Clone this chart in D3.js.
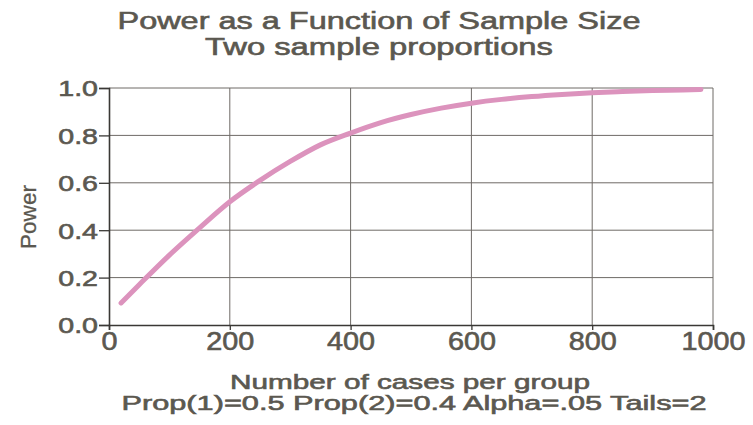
<!DOCTYPE html>
<html>
<head>
<meta charset="utf-8">
<script src="https://cdn.jsdelivr.net/npm/d3@7"></script>
<style>
  body { margin: 0; background: #fff; }
  text { font-family: "Liberation Sans", Arial, sans-serif; fill: #5b5850; stroke: #5b5850; stroke-width: 0.6px; }
</style>
</head>
<body>
<script>
// cases per group and power
const cases = [20, 50, 100, 150, 200, 250, 300, 350, 400, 450, 500, 550, 600, 650, 700, 750, 800, 850, 900, 950, 980];
const power = [0.093, 0.17, 0.295, 0.41, 0.52, 0.61, 0.69, 0.76, 0.81, 0.854, 0.888, 0.915, 0.936, 0.952, 0.964, 0.973, 0.98, 0.985, 0.989, 0.992, 0.994];
const xTicks = [0, 200, 400, 600, 800, 1000];
const yTicks = [0, 0.2, 0.4, 0.6, 0.8, 1.0];

const width = 753, height = 425;
const svg = d3.select("body").append("svg")
  .attr("width", width)
  .attr("height", height);

const x = d3.scaleLinear().domain([0, 1000]).range([109, 713]);
const y = d3.scaleLinear().domain([0, 1]).range([325, 88]);

// the scan has wide lettering, so text gets stretched sideways
function stretch(sel, k) {
  sel.each(function () {
    const len = this.getComputedTextLength();
    d3.select(this).attr("textLength", len * k).attr("lengthAdjust", "spacingAndGlyphs");
  });
}
function fitTo(sel, w) {
  sel.attr("textLength", w).attr("lengthAdjust", "spacingAndGlyphs");
}

// grid
svg.append("g").selectAll("line")
  .data(xTicks.slice(1))
  .join("line")
  .attr("x1", d => x(d)).attr("x2", d => x(d))
  .attr("y1", y(0)).attr("y2", y(1))
  .attr("stroke", "#6e6a66").attr("stroke-width", 1);

svg.append("g").selectAll("line")
  .data(yTicks.slice(1))
  .join("line")
  .attr("x1", x(0)).attr("x2", x(1000))
  .attr("y1", d => y(d)).attr("y2", d => y(d))
  .attr("stroke", "#6e6a66").attr("stroke-width", 1);

// axes
const xAxis = svg.append("g")
  .attr("transform", `translate(0,${y(0)})`)
  .call(d3.axisBottom(x).tickValues(xTicks).tickSize(5).tickFormat(d3.format("d")));
const yAxis = svg.append("g")
  .attr("transform", `translate(${x(0)},0)`)
  .call(d3.axisLeft(y).tickValues(yTicks).tickSize(10).tickFormat(d3.format(".1f")));

[xAxis, yAxis].forEach(a => {
  a.select(".domain").attr("stroke", "#3a3835").attr("stroke-width", 1.6);
  a.selectAll(".tick line").attr("stroke", "#3a3835").attr("stroke-width", 1.3);
  a.selectAll(".tick text").attr("fill", "#5b5850")
    .style("font-family", "'Liberation Sans', Arial, sans-serif");
});
xAxis.selectAll(".tick text").style("font-size", "25px").attr("y", 7).attr("dy", "0.72em")
  .call(stretch, 1.15);
yAxis.selectAll(".tick text").style("font-size", "22px").attr("x", -11).attr("dy", "0.36em")
  .call(stretch, 1.3);

// curve
svg.append("path")
  .datum(cases.map((c, i) => [c, power[i]]))
  .attr("fill", "none")
  .attr("stroke", "#dc93bd")
  .attr("stroke-width", 5)
  .attr("stroke-linecap", "round")
  .attr("d", d3.line().x(d => x(d[0])).y(d => y(d[1])).curve(d3.curveMonotoneX));

// titles
const title = svg.append("g").attr("text-anchor", "middle");
title.append("text").attr("x", 379).attr("y", 29).style("font-size", "23px")
  .text("Power as a Function of Sample Size").call(fitTo, 523);
title.append("text").attr("x", 379).attr("y", 55).style("font-size", "23px")
  .text("Two sample proportions").call(fitTo, 348);

svg.append("text")
  .attr("text-anchor", "middle")
  .attr("transform", "translate(36,217) rotate(-90)")
  .style("font-size", "22px")
  .style("stroke-width", "0.3px")
  .text("Power").call(fitTo, 64);

const xlab = svg.append("g").attr("text-anchor", "middle").style("white-space", "pre");
xlab.append("text").attr("x", 410).attr("y", 389).style("font-size", "20px")
  .text("Number of cases per group").call(fitTo, 360);
xlab.append("text").attr("x", 414).attr("y", 410).style("font-size", "20px")
  .text("Prop(1)=0.5 Prop(2)=0.4 Alpha=.05  Tails=2").call(fitTo, 585);
</script>
</body>
</html>
